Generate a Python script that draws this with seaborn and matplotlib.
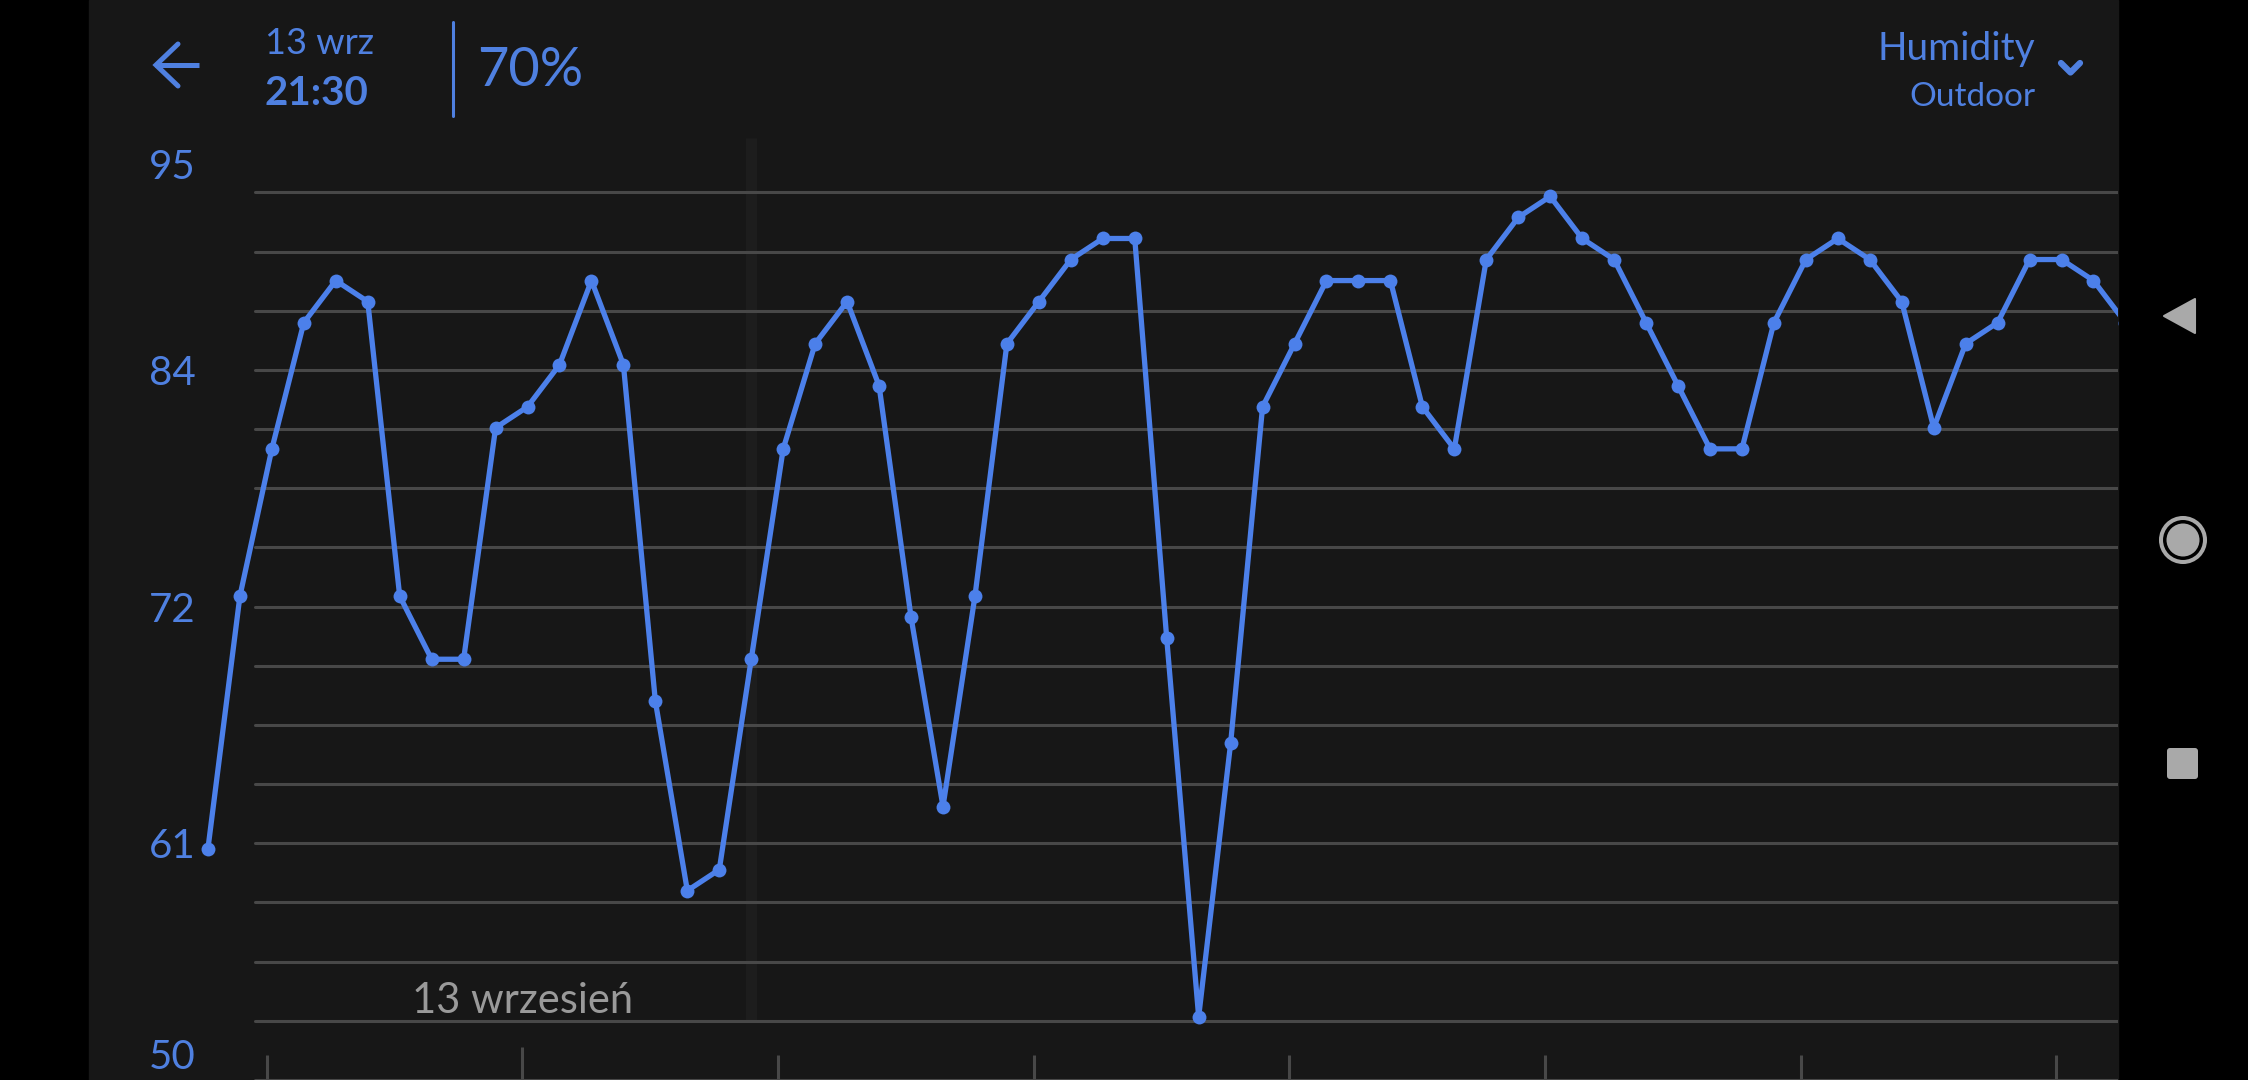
import numpy as np
import pandas as pd
import matplotlib
matplotlib.use("Agg")
import matplotlib.pyplot as plt
import matplotlib.dates as mdates
import matplotlib.transforms as mtransforms
from matplotlib.lines import Line2D
from matplotlib.patches import Rectangle, Polygon, Circle, FancyBboxPatch
import seaborn as sns

# ---- data (3-hourly outdoor humidity, %) ----
humidity = [61, 73, 80, 86, 88, 87, 73, 70, 70, 81,
            82, 84, 88, 84, 68, 59, 60, 70, 80, 85,
            87, 83, 72, 63, 73, 85, 87, 89, 90, 90,
            71, 53, 66, 82, 85, 88, 88, 88, 82, 80,
            89, 91, 92, 90, 89, 86, 83, 80, 80, 86,
            89, 90, 89, 87, 81, 85, 86, 89, 89, 88,
            86]
times = pd.date_range("2023-09-11 18:30", periods=len(humidity), freq="3h")
day_ticks = pd.date_range("2023-09-12", "2023-09-19", freq="D")
selected_time = pd.Timestamp("2023-09-13 21:30")
y_ticks = [95, 83.75, 72.5, 61.25, 50]
y_labels = ["95", "84", "72", "61", "50"]

W, H = 2248, 1080
BG = "#171717"
BLUE = "#4c80ea"
TXT = "#4f80e0"
GRID = "#484848"
NAV = "#a9a9a9"

sns.set_theme(style="dark")
plt.rcParams["font.family"] = ["Lato", "DejaVu Sans"]

fig = plt.figure(figsize=(W / 100, H / 100), dpi=100, facecolor="black")
T = fig.dpi_scale_trans


def px(x, y):
    # screen pixels (top-left origin) -> inches for dpi_scale_trans
    return x / 100, (H - y) / 100


# dark app panel
fig.add_artist(Rectangle(px(89, H), (2118 - 89) / 100, H / 100, transform=T,
                         color=BG, zorder=-1))

ax_left, ax_right, ax_top = 89, 2118, 133.3
ax = fig.add_axes([ax_left / W, 0, (ax_right - ax_left) / W, 1 - ax_top / H])
ax.set_facecolor("none")
for s in ax.spines.values():
    s.set_visible(False)
ax.grid(False)

df = pd.DataFrame({"time": times, "humidity": humidity})
sns.lineplot(data=df, x="time", y="humidity", ax=ax, color=BLUE, linewidth=3.8,
             marker="o", markersize=10, markeredgewidth=0, zorder=4,
             solid_joinstyle="round")

ax.set_xlim(mdates.date2num(pd.Timestamp("2023-09-11 07:20")),
            mdates.date2num(pd.Timestamp("2023-09-19 05:48")))
ax.set_ylim(50, 95)
ax.set_xlabel("")
ax.set_ylabel("")

# horizontal grid lines (start a bit right of the labels)
gx0 = (255 - ax_left) / (ax_right - ax_left)
for v in np.linspace(95, 50, 17)[1:]:
    ax.axhline(v, xmin=gx0, xmax=1, color=GRID, lw=2.2, zorder=1)

# cursor at the selected reading
ax.vlines(mdates.date2num(selected_time), 52.8, 94.8, color="#1d1d1d", lw=8, zorder=0.5)

# x ticks at midnights
ax.set_xticks(mdates.date2num(day_ticks.to_pydatetime()))
ax.set_xticklabels([])
ax.tick_params(axis="x", direction="in", length=18, width=2.2, color=GRID,
               bottom=True)
ax.xaxis.get_major_ticks()[1].tick1line.set_markersize(24)

# y tick labels drawn inside the panel
ax.set_yticks(y_ticks, y_labels)
ax.tick_params(axis="y", length=0, left=False, pad=-(172 - ax_left) * 0.72,
               labelsize=29, labelcolor=TXT)
labels = ax.get_yticklabels()
for lbl in labels:
    lbl.set_ha("center")
labels[0].set_transform(labels[0].get_transform()
                        + mtransforms.ScaledTranslation(0, -0.31, T))
labels[-1].set_transform(labels[-1].get_transform()
                         + mtransforms.ScaledTranslation(0, 0.26, T))

ax.text(mdates.date2num(pd.Timestamp("2023-09-13")), 0.0708, "13 wrzesień",
        transform=ax.get_xaxis_transform(), ha="center", va="baseline",
        fontsize=30, color="#9a9a9a", fontweight="normal")

# ---- header ----
fig.add_artist(Line2D(*zip(px(155, 65), px(199, 65)), transform=T, color=TXT,
                      lw=3.6, solid_capstyle="butt", zorder=5))
fig.add_artist(Line2D(*zip(px(178, 44), px(156, 65), px(178, 86)), transform=T,
                      color=TXT, lw=3.6, solid_joinstyle="miter", zorder=5))
fig.text(*px(265, 54), "13 wrz", transform=T, fontsize=26, color=TXT,
         ha="left", va="baseline")
fig.text(*px(265, 105), "21:30", transform=T, fontsize=29, color=TXT,
         fontweight="bold", ha="left", va="baseline")
fig.add_artist(Line2D(*zip(px(453, 22), px(453, 116)), transform=T, color=TXT,
                      lw=2.2, zorder=5))
fig.text(*px(477, 86), "70%", transform=T, fontsize=39, color=TXT,
         ha="left", va="baseline")
fig.text(*px(2035, 60), "Humidity", transform=T, fontsize=28, color=TXT,
         ha="right", va="baseline")
fig.text(*px(2035, 106), "Outdoor", transform=T, fontsize=24, color=TXT,
         ha="right", va="baseline")
fig.add_artist(Line2D(*zip(px(2061, 63), px(2070.5, 72.5), px(2080, 63)),
                      transform=T, color=TXT, lw=4.5, solid_capstyle="round",
                      solid_joinstyle="round", zorder=5))

# ---- android nav bar ----
fig.add_artist(Polygon([px(2164, 316), px(2195, 299), px(2195, 333)], closed=True,
                       transform=T, facecolor=NAV, edgecolor=NAV, lw=1.5,
                       joinstyle="round", zorder=5))
fig.add_artist(Circle(px(2183, 540), 0.22, transform=T, fill=False,
                      edgecolor=NAV, lw=2.9, zorder=5))
fig.add_artist(Circle(px(2183, 540), 0.165, transform=T, facecolor=NAV,
                      edgecolor="none", zorder=5))
fig.add_artist(FancyBboxPatch(px(2167, 779), 0.31, 0.31,
                              boxstyle="round,pad=0,rounding_size=0.03",
                              transform=T, facecolor=NAV, edgecolor="none",
                              zorder=5))

fig.savefig("out.png", dpi=100, facecolor="black")
